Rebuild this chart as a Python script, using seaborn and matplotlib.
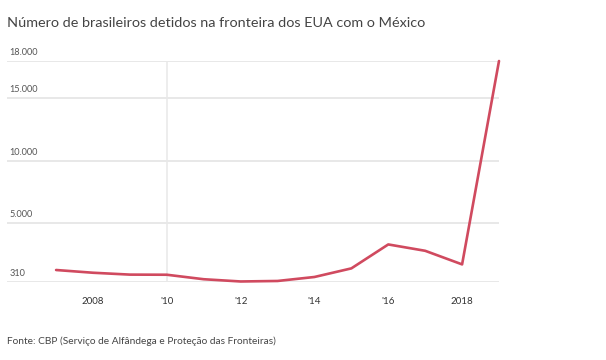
import matplotlib
matplotlib.use("Agg")
import matplotlib.pyplot as plt
import matplotlib.transforms as mtransforms
import pandas as pd
import seaborn as sns

years = [2007, 2008, 2009, 2010, 2011, 2012, 2013, 2014, 2015, 2016, 2017, 2018, 2019]
detidos = [1240, 1020, 870, 860, 500, 320, 360, 680, 1370, 3290, 2780, 1690, 18000]

y_ticks = [310, 5000, 10000, 15000, 18000]
y_labels = ["310", "5.000", "10.000", "15.000", "18.000"]
x_ticks = [2008, 2010, 2012, 2014, 2016, 2018]
x_labels = ["2008", "'10", "'12", "'14", "'16", "2018"]

df = pd.DataFrame({"ano": years, "detidos": detidos})

sns.set_style("white")
plt.rcParams["font.family"] = ["Lato", "DejaVu Sans"]

W, H = 606, 360
fig = plt.figure(figsize=(W / 100, H / 100), dpi=100)
ax = fig.add_axes([7 / W, 1 - 281.6 / H, (499 - 7) / W, (281.6 - 61) / H])

grid_color = "#e8e8e8"
for v in y_ticks:
    ax.axhline(v, color=grid_color, lw=1.4, zorder=0)
ax.axvline(2010, color=grid_color, lw=1.1, zorder=0)

sns.lineplot(data=df, x="ano", y="detidos", ax=ax, color="#d04a5f", lw=1.9,
             clip_on=False, zorder=3)

ax.set_xlim(2005.67, 2019)
ax.set_ylim(310, 18000)
for s in ax.spines.values():
    s.set_visible(False)
ax.set_xlabel("")
ax.set_ylabel("")
ax.set_yticks([])
ax.set_xticks(x_ticks)
ax.set_xticklabels(x_labels, fontsize=7, color="#333333")
ax.tick_params(axis="x", length=0, pad=11)

trans = mtransforms.blended_transform_factory(ax.transAxes, ax.transData)
offset = mtransforms.offset_copy(trans, fig=fig, x=0, y=4, units="dots")
for v, lab in zip(y_ticks, y_labels):
    ax.text(0.005, v, lab, transform=offset, fontsize=6.6, color="#555555",
            ha="left", va="bottom")

fig.text(7 / W, 1 - 27 / H, "Número de brasileiros detidos na fronteira dos EUA com o México",
         fontsize=10.4, color="#444444", ha="left", va="baseline")
fig.text(7 / W, 1 - 344 / H, "Fonte: CBP (Serviço de Alfândega e Proteção das Fronteiras)",
         fontsize=7.3, color="#444444", ha="left", va="baseline")

fig.savefig("out.png", dpi=100, facecolor="white")
